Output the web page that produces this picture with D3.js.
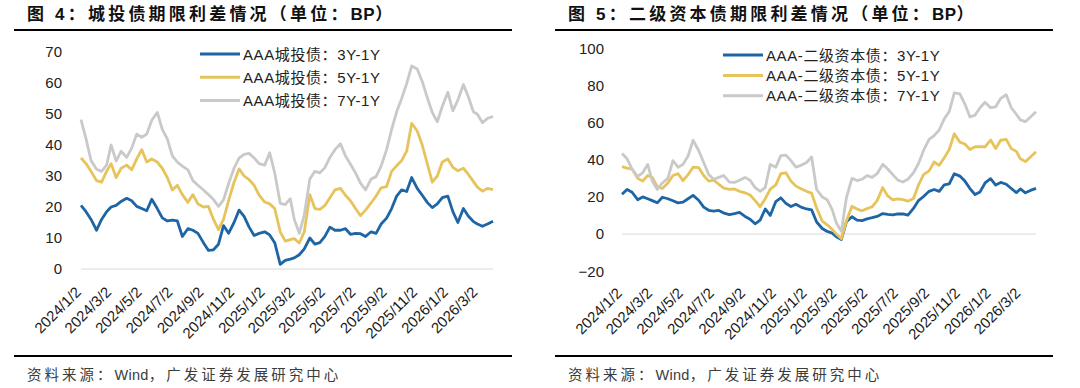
<!DOCTYPE html>
<html>
<head>
<meta charset="utf-8">
<script src="https://cdn.jsdelivr.net/npm/d3@7"></script>
<style>
  body { margin: 0; background: #fff; }
  svg { display: block; font-family: 'Liberation Sans', Arial, 'Noto Sans CJK SC', sans-serif; }
</style>
</head>
<body>
<svg id="chart" width="1080" height="388" viewBox="0 0 1080 388"></svg>
<script>
const dates = [
  '2024-01-02', '2024-01-12', '2024-01-22', '2024-02-02', '2024-02-12', '2024-02-22',
  '2024-03-02', '2024-03-12', '2024-03-22', '2024-04-02', '2024-04-12', '2024-04-22',
  '2024-05-02', '2024-05-12', '2024-05-22', '2024-06-02', '2024-06-12', '2024-06-22',
  '2024-07-02', '2024-07-12', '2024-07-22', '2024-08-02', '2024-08-12', '2024-08-22',
  '2024-09-02', '2024-09-12', '2024-09-22', '2024-10-02', '2024-10-12', '2024-10-22',
  '2024-11-02', '2024-11-12', '2024-11-22', '2024-12-02', '2024-12-12', '2024-12-22',
  '2025-01-02', '2025-01-12', '2025-01-22', '2025-02-02', '2025-02-12', '2025-02-22',
  '2025-03-02', '2025-03-12', '2025-03-22', '2025-04-02', '2025-04-12', '2025-04-22',
  '2025-05-02', '2025-05-12', '2025-05-22', '2025-06-02', '2025-06-12', '2025-06-22',
  '2025-07-02', '2025-07-12', '2025-07-22', '2025-08-02', '2025-08-12', '2025-08-22',
  '2025-09-02', '2025-09-12', '2025-09-22', '2025-10-02', '2025-10-12', '2025-10-22',
  '2025-11-02', '2025-11-12', '2025-11-22', '2025-12-02', '2025-12-12', '2025-12-22',
  '2026-01-02', '2026-01-12', '2026-01-22', '2026-02-02', '2026-02-12', '2026-02-22',
  '2026-03-02', '2026-03-12', '2026-03-22', '2026-04-02'
]

const tick_dates = [
  '2024-01-02', '2024-03-02', '2024-05-02', '2024-07-02', '2024-09-02', '2024-11-02',
  '2025-01-02', '2025-03-02', '2025-05-02', '2025-07-02', '2025-09-02', '2025-11-02',
  '2026-01-02', '2026-03-02'
]

// 图4 城投债
const lgfv_3y1y = [
  20.5, 18.5, 16, 12.5, 16, 18.5, 20, 20.5, 21.8, 22.8,
  22, 20.2, 19.5, 18.8, 22.5, 19.5, 16.5, 15.5, 15.8, 15.5,
  10.5, 13, 12.5, 11.5, 8.5, 6, 6.2, 8, 14, 11.5,
  15, 19, 17, 13.5, 10.8, 11.5, 12, 11, 8.5, 1.5,
  2.8, 3.2, 3.6, 4.6, 6.5, 10, 8, 8.5, 10.5, 13.5,
  12.5, 12.5, 13, 11.2, 11.5, 11.4, 10.5, 12, 11.5, 14.5,
  16.4, 19.5, 23.5, 25.5, 25, 29.5, 26, 23.8, 21.5, 19.8,
  21, 23, 23.5, 18.5, 15, 19.5, 17, 15.3, 14.5, 13.8,
  14.5, 15.4
]
const lgfv_5y1y = [
  35.8, 34, 31.5, 28.5, 28, 31.5, 34, 29.5, 32.5, 33.5,
  32, 35.5, 38.5, 34.5, 35.5, 34.5, 32.5, 29.5, 25.5, 27,
  24, 21.5, 24, 21, 20, 20.2, 16, 12.7, 16, 22,
  28, 32.3, 30, 28.8, 27, 23.8, 21.6, 21, 19.5, 12,
  9, 9.5, 9.8, 8.4, 12, 24, 19.5, 19.2, 20.5, 23,
  25.5, 26, 23.8, 22, 19.5, 17.2, 19, 21.3, 23.5, 26.2,
  26.6, 31.5, 33.3, 35, 38, 47, 44.5, 40, 34, 28,
  30, 34.5, 35.5, 32.8, 31.7, 32.5, 30.5, 28.2, 26.4, 25.1,
  26, 25.6
]
const lgfv_7y1y = [
  48.2, 42, 35, 32.2, 31.5, 33.5, 40, 34.8, 38, 36,
  39, 43.5, 42.5, 43.5, 48, 50.5, 45, 42, 36.5, 34.5,
  33.2, 32, 28.5, 27, 25.5, 24, 22.4, 20.2, 22.3, 27.5,
  32.5, 35.8, 37, 37.3, 35.8, 34, 33.5, 37.5, 31, 21.2,
  20.8, 22.7, 16, 11.5, 17.5, 29, 31.5, 31, 32.7, 36,
  38.5, 40.4, 36.5, 33.8, 31, 27.7, 25.5, 29, 29.8, 33.2,
  38.5, 45, 50.7, 55, 59.8, 65.5, 64.5, 60.5, 55.3, 50.5,
  47.5, 52.5, 57, 51, 54.5, 59.5, 55.5, 50.7, 49.9, 47.2,
  48.6, 49.2
]

// 图5 二级资本债
const tier2_3y1y = [
  21.4, 24, 22.5, 18.5, 20, 19, 18, 16.8, 19.8, 19,
  17.9, 16.8, 17.2, 19, 20.8, 18.2, 14.5, 12.8, 12.4, 12.7,
  11.3, 10.5, 11, 11.7, 9.5, 8, 5.5, 7.5, 13.5, 10,
  17.5, 19.5, 16.5, 14.8, 16, 14.5, 13.5, 13, 6.5, 3,
  1.4, 0.5, -1.5, -3, 6.6, 9.3, 7.5, 7.2, 8.2, 8.8,
  9.5, 11, 10.6, 10.3, 10.8, 10.9, 10.2, 13.8, 18, 20.2,
  23, 24, 23, 26.5, 27, 32.5, 31.2, 28.5, 24.5, 21.3,
  22.7, 27.5, 29.8, 26.4, 27.8, 26.8, 24.5, 22.3, 24.3, 22.2,
  23.5, 24.6
]
const tier2_5y1y = [
  36.3, 35.5, 35, 30, 28.5, 31.5, 30.5, 25.5, 24.5, 27.5,
  31.5, 32.5, 28.8, 32, 36, 35.8, 31.5, 28.5, 29, 26.8,
  24.7, 24, 24.3, 23, 22.2, 21, 18, 14.7, 19, 24.2,
  26.5, 32.5, 33, 28.5, 25.8, 24.4, 23, 22, 14, 7,
  5, 2.5, 0, -2.5, 7, 15, 13.5, 12.5, 13.7, 14.7,
  18, 25, 20.5, 18.4, 19, 18.5, 17.7, 19.2, 26.4, 32,
  34, 38.8, 37, 41, 45.5, 54, 49.5, 48.5, 45.5, 47,
  47, 47, 50.6, 46.1, 50.5, 51, 46, 44.5, 40.5, 39,
  41.5, 44.3
]
const tier2_7y1y = [
  43.4, 40.5, 35, 31, 33, 37.5, 28.5, 24, 27.5, 30,
  39.5, 36, 37.5, 42, 50.5, 45, 38.5, 32, 29.5, 30.5,
  31.5, 28, 27.8, 29, 30.5, 29, 25, 23, 25, 37.5,
  36, 42.2, 42.5, 39.5, 36, 37, 38.5, 41.5, 24, 20,
  18.5, 13, 6, 1.5, 19.5, 30, 28.8, 29.5, 31.5, 30.5,
  32.5, 37.5, 35, 32, 29, 28, 29.5, 33, 38, 45,
  51, 53, 56, 62, 66, 76, 75.5, 70, 63, 64,
  68, 71, 68, 68.5, 73, 75, 68, 64.5, 61.5, 60.5,
  63, 65.9
]

const lgfv_names = ['AAA城投债：3Y-1Y', 'AAA城投债：5Y-1Y', 'AAA城投债：7Y-1Y']
const tier2_names = ['AAA-二级资本债：3Y-1Y', 'AAA-二级资本债：5Y-1Y', 'AAA-二级资本债：7Y-1Y']
const lgfv_ticks = [0, 10, 20, 30, 40, 50, 60, 70]
const tier2_ticks = [-20, 0, 20, 40, 60, 80, 100]
const series_colors = ['#1d65a4', '#e7c35c', '#c9c9c9']

// text pieces with their own letter spacing (CJK spaced, latin tight)
const source_parts = [['资料来源：', 3], ['Wind', 0.3], ['，广发证券发展研究中心', 3]]

const parse = d3.timeParse('%Y-%m-%d')

function spacedText (sel, parts) {
  sel.selectAll('tspan')
    .data(parts)
    .enter()
    .append('tspan')
    .attr('letter-spacing', d => d[1] + 'px')
    .text(d => d[0])
}

class spreadPlot {
  constructor (svg, opts) {
    const g = svg.append('g')
    const x = d3
      .scaleTime()
      .domain([parse(dates[0]), parse(dates[dates.length - 1])])
      .range([opts.x0, opts.x1])
    const y = d3
      .scaleLinear()
      .domain(opts.domain)
      .range([opts.y0, opts.y1])

    // title + rules
    g.append('text')
      .attr('x', opts.left + 13)
      .attr('y', 14)
      .attr('dominant-baseline', 'central')
      .attr('font-size', '17px')
      .attr('font-weight', 'bold')
      .attr('fill', '#111')
      .call(spacedText, opts.title)
    g.append('line')
      .attr('x1', opts.left).attr('x2', opts.left + 498)
      .attr('y1', 30).attr('y2', 30)
      .attr('stroke', '#000').attr('stroke-width', 2)
    g.append('line')
      .attr('x1', opts.left).attr('x2', opts.left + 498)
      .attr('y1', 356).attr('y2', 356)
      .attr('stroke', '#000').attr('stroke-width', 2)
    g.append('text')
      .attr('x', opts.left + 13)
      .attr('y', 375)
      .attr('dominant-baseline', 'central')
      .attr('font-size', '14.5px')
      .attr('fill', '#3c3c3c')
      .call(spacedText, source_parts)

    // y labels, no axis line
    const yAxis = d3.axisLeft(y).tickValues(opts.ticks).tickSize(0).tickPadding(0)
    const ya = g.append('g')
      .attr('transform', 'translate(' + opts.ylab + ',0)')
      .call(yAxis)
    ya.select('.domain').remove()
    ya.selectAll('text')
      .attr('font-size', '15px')
      .attr('font-family', null)
      .attr('fill', '#222')

    // zero line
    g.append('line')
      .attr('x1', opts.x0).attr('x2', opts.x1)
      .attr('y1', y(0)).attr('y2', y(0))
      .attr('stroke', '#d9d9d9').attr('stroke-width', 1)

    // x labels rotated
    g.append('g')
      .selectAll('text')
      .data(tick_dates)
      .enter()
      .append('text')
      .attr('transform', d => 'translate(' + (x(parse(d)) + 1) + ',' + opts.xlab + ') rotate(-45)')
      .attr('text-anchor', 'end')
      .attr('font-size', '15px')
      .attr('fill', '#1a1a1a')
      .text(d => d3.timeFormat('%Y/%-m/%-d')(parse(d)))

    const line = d3
      .line()
      .x((d, i) => x(parse(dates[i])))
      .y(d => y(d))

    g.append('g')
      .selectAll('path')
      .data(opts.series)
      .enter()
      .append('path')
      .attr('d', d => line(d))
      .attr('fill', 'none')
      .attr('stroke', (d, i) => series_colors[i])
      .attr('stroke-width', 2.8)
      .attr('stroke-linejoin', 'round')

    // legend
    const leg = g.append('g')
      .selectAll('g')
      .data(opts.names)
      .enter()
      .append('g')
      .attr('transform', (d, i) => 'translate(' + opts.legx + ',' + (opts.legy + i * opts.legstep) + ')')
    leg.append('line')
      .attr('x1', 0).attr('x2', 40)
      .attr('stroke', (d, i) => series_colors[i])
      .attr('stroke-width', 3)
    leg.append('text')
      .attr('x', 43)
      .attr('dominant-baseline', 'central')
      .attr('font-size', '15px')
      .attr('letter-spacing', '0.6px')
      .attr('fill', '#222')
      .text(d => d)
  }
}

function whenDocumentLoaded (action) {
  if (document.readyState === 'loading') {
    document.addEventListener('DOMContentLoaded', action)
  } else {
    action()
  }
}

whenDocumentLoaded(() => {
  const svg = d3.select('#chart')
  new spreadPlot(svg, {
    left: 14,
    title: [['图 4：城投债期限利差情况（单位：', 3.2], ['BP', 0.5], ['）', 0]],
    x0: 81, x1: 493,
    domain: [0, 70], y0: 269, y1: 52,
    ticks: lgfv_ticks,
    ylab: 62,
    xlab: 293,
    series: [lgfv_3y1y, lgfv_5y1y, lgfv_7y1y],
    names: lgfv_names,
    legx: 200, legy: 54, legstep: 23.3
  })
  new spreadPlot(svg, {
    left: 555,
    title: [['图 5：二级资本债期限利差情况（单位：', 3.2], ['BP', 0.5], ['）', 0]],
    x0: 622, x1: 1036,
    domain: [-20, 100], y0: 271.2, y1: 48.3,
    ticks: tier2_ticks,
    ylab: 604,
    xlab: 294,
    series: [tier2_3y1y, tier2_5y1y, tier2_7y1y],
    names: tier2_names,
    legx: 723, legy: 55, legstep: 20.4
  })
})
</script>
</body>
</html>
